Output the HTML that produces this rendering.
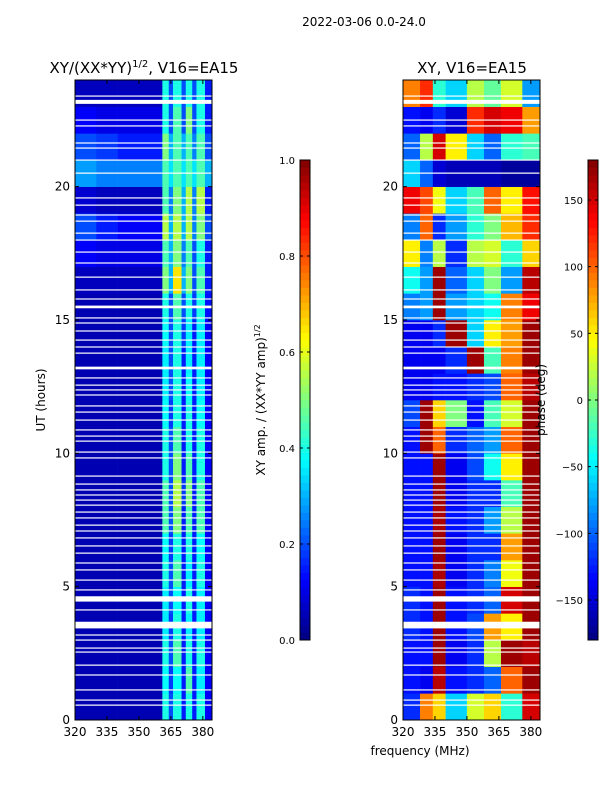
<!DOCTYPE html>
<html><head><meta charset="utf-8"><style>
body{margin:0;background:#fff;}
svg text{font-family:"DejaVu Sans","Liberation Sans",sans-serif;fill:#000;}
</style></head><body>
<svg id="fig" width="600" height="800" xmlns="http://www.w3.org/2000/svg">
<rect width="600" height="800" fill="#fff"/>
<text x="364" y="26" font-size="12" text-anchor="middle">2022-03-06 0.0-24.0</text>
<g id="left"></g>
<g id="right"></g>
<g id="cb1"></g>
<g id="cb2"></g>
<text x="144" y="73" font-size="15" text-anchor="middle">XY/(XX*YY)<tspan font-size="10" dy="-6">1/2</tspan><tspan dy="6">, V16=EA15</tspan></text>
<text x="472" y="73" font-size="15" text-anchor="middle">XY, V16=EA15</text>
<text transform="translate(45,400) rotate(-90)" font-size="12" text-anchor="middle">UT (hours)</text>
<text x="420" y="755" font-size="12" text-anchor="middle">frequency (MHz)</text>
<text transform="translate(265,400) rotate(-90)" font-size="12" text-anchor="middle">XY amp. / (XX*YY amp)<tspan font-size="8" dy="-5">1/2</tspan></text>
<text transform="translate(545,400) rotate(-90)" font-size="12" text-anchor="middle">phase (deg)</text>
</svg>
<script>
const xTicks=[320,335,350,365,380];
const yTicks=[0,5,10,15,20];
const ampTicks=[0.0,0.2,0.4,0.6,0.8,1.0];
const phaseTicks=[-150,-100,-50,0,50,100,150];
const leftFreqEdges=[320,330,340,350,361,364,366,370,372,375,377,381,384.3];
const rightFreqEdges=[320,328,334,340,350,358,366,376,384.3];
const ampGrid=[
[0.05,0.05,0.05,0.05,0.4,0.2,0.4,0.15,0.4,0.15,0.4,0.12],
[0.05,0.05,0.05,0.05,0.38,0.18,0.38,0.15,0.45,0.15,0.36,0.12],
[0.05,0.05,0.05,0.05,0.4,0.2,0.45,0.15,0.4,0.15,0.4,0.12],
[0.05,0.05,0.05,0.05,0.36,0.18,0.4,0.15,0.36,0.15,0.36,0.12],
[0.05,0.05,0.05,0.05,0.36,0.2,0.38,0.15,0.4,0.15,0.36,0.12],
[0.05,0.05,0.05,0.05,0.4,0.2,0.45,0.15,0.36,0.15,0.4,0.12],
[0.05,0.05,0.05,0.05,0.38,0.18,0.4,0.15,0.4,0.15,0.38,0.12],
[0.05,0.05,0.05,0.05,0.45,0.2,0.5,0.15,0.45,0.15,0.45,0.12],
[0.05,0.05,0.05,0.05,0.45,0.2,0.55,0.18,0.5,0.15,0.45,0.12],
[0.05,0.05,0.05,0.05,0.4,0.2,0.5,0.15,0.45,0.15,0.4,0.12],
[0.05,0.05,0.05,0.05,0.4,0.2,0.45,0.15,0.4,0.15,0.4,0.12],
[0.05,0.05,0.05,0.05,0.38,0.18,0.4,0.15,0.4,0.15,0.38,0.12],
[0.05,0.05,0.05,0.05,0.36,0.2,0.4,0.15,0.38,0.15,0.36,0.12],
[0.05,0.05,0.05,0.05,0.36,0.2,0.4,0.15,0.36,0.15,0.36,0.12],
[0.05,0.05,0.05,0.05,0.38,0.2,0.4,0.18,0.36,0.15,0.36,0.12],
[0.05,0.05,0.05,0.05,0.4,0.2,0.45,0.2,0.4,0.18,0.4,0.14],
[0.06,0.06,0.06,0.06,0.5,0.3,0.65,0.3,0.5,0.2,0.45,0.15],
[0.12,0.1,0.1,0.1,0.45,0.3,0.5,0.25,0.45,0.2,0.4,0.15],
[0.2,0.15,0.12,0.12,0.55,0.3,0.55,0.3,0.55,0.25,0.5,0.2],
[0.08,0.06,0.06,0.06,0.45,0.25,0.5,0.3,0.55,0.25,0.55,0.15],
[0.28,0.25,0.25,0.25,0.45,0.35,0.45,0.35,0.45,0.35,0.45,0.3],
[0.2,0.18,0.15,0.15,0.5,0.3,0.45,0.3,0.45,0.25,0.45,0.2],
[0.12,0.1,0.1,0.1,0.4,0.2,0.45,0.2,0.5,0.2,0.4,0.15],
[0.06,0.06,0.06,0.06,0.4,0.2,0.4,0.2,0.4,0.2,0.4,0.15]
];
const phaseGrid=[
[-120,90,60,-60,30,60,-30,150],
[-130,-140,160,-130,-120,-100,100,170],
[-130,-130,170,-140,-120,20,170,160],
[-120,-130,170,-130,-110,80,50,170],
[-120,-130,170,-130,-120,-100,150,170],
[-130,-130,165,-140,-120,-90,40,170],
[-130,-130,170,-140,-120,-120,80,170],
[-130,-130,165,-130,-120,-80,20,170],
[-130,-130,170,-140,-120,-120,-20,170],
[-130,-130,170,-140,-110,-40,50,170],
[-130,170,100,-120,-100,-80,100,170],
[-110,170,60,0,-130,-20,30,170],
[-140,-140,-130,-130,-120,-110,100,160],
[-140,-140,-140,-120,170,-20,90,170],
[-140,-140,-120,170,-60,50,80,170],
[-90,-80,170,-80,-60,-40,90,140],
[-40,-80,170,-100,-60,0,-80,160],
[50,-90,20,-120,20,30,-30,60],
[-90,100,-120,-80,-30,0,70,120],
[140,110,40,-60,-20,100,50,130],
[-60,-100,-150,-160,-160,-160,-170,-170],
[-100,20,150,50,-60,-100,-30,-20],
[-130,-140,-120,-150,120,150,140,80],
[90,120,-30,-60,20,-10,30,-80]
];
const gapHours=[23.4,23.18,22.5,22.28,21.64,21.45,21.0,20.51,19.58,19.31,18.94,18.71,18.26,18.0,17.55,17.14,16.61,16.13,15.79,15.49,15.08,14.89,14.59,14.25,13.99,13.76,13.2,12.83,12.56,12.38,12.19,11.78,11.55,11.25,10.88,10.65,10.46,10.05,9.83,9.15,8.85,8.63,8.44,8.25,8.06,7.8,7.58,7.31,7.09,6.83,6.53,6.26,5.89,5.63,5.25,4.88,4.54,4.13,3.56,3.19,3.0,2.7,2.55,2.06,1.69,1.13,0.75,0.56];
const gapWidths=[0.04,0.15,0.04,0.04,0.04,0.04,0.04,0.04,0.04,0.04,0.04,0.04,0.04,0.04,0.04,0.04,0.04,0.04,0.04,0.1,0.04,0.04,0.04,0.04,0.04,0.04,0.1,0.04,0.04,0.04,0.04,0.04,0.04,0.04,0.04,0.04,0.04,0.04,0.04,0.04,0.04,0.04,0.04,0.04,0.04,0.04,0.04,0.04,0.04,0.04,0.04,0.04,0.04,0.04,0.04,0.04,0.2,0.04,0.25,0.04,0.04,0.04,0.04,0.04,0.04,0.04,0.04,0.04];

const NS='http://www.w3.org/2000/svg';
function mk(parent,tag,attrs){const e=document.createElementNS(NS,tag);for(const k in attrs)e.setAttribute(k,attrs[k]);parent.appendChild(e);return e;}
function jet(v){v=Math.max(0,Math.min(1,v));
 const r=Math.max(0,Math.min(1,1.5-Math.abs(4*v-3))),g=Math.max(0,Math.min(1,1.5-Math.abs(4*v-2))),b=Math.max(0,Math.min(1,1.5-Math.abs(4*v-1)));
 return `rgb(${Math.round(r*255)},${Math.round(g*255)},${Math.round(b*255)})`;}
const PT=80,PB=720;
const yH=h=>PB-(h/24)*(PB-PT);

function panel(gid,x0,x1,edges,grid,norm,name){
 const g=document.getElementById(gid);
 const xF=f=>x0+(f-320)/(384.3-320)*(x1-x0);
 grid.forEach((row,ri)=>{row.forEach((v,ci)=>{
  const r=mk(g,'rect',{x:xF(edges[ci]),y:yH(ri+1),width:xF(edges[ci+1])-xF(edges[ci])+0.3,height:yH(ri)-yH(ri+1)+0.3,fill:jet(norm(v))});
  
  
 });});
 gapHours.forEach((h,i)=>{
  const r=mk(g,'rect',{x:x0,y:yH(h+gapWidths[i]/2),width:x1-x0,height:Math.max(1.2,yH(h)-yH(h+gapWidths[i])),fill:'#fff'});
  
  
 });
 const fr=mk(g,'rect',{x:x0,y:PT,width:x1-x0,height:PB-PT,fill:'none',stroke:'#000','stroke-width':1});
 
 
 xTicks.forEach(t=>{const x=xF(t);
  mk(g,'line',{x1:x,x2:x,y1:PB,y2:PB-4,stroke:'#000'});mk(g,'line',{x1:x,x2:x,y1:PT,y2:PT+4,stroke:'#000'});
  const tx=mk(g,'text',{x:x,y:PB+16,'font-size':12,'text-anchor':'middle'});tx.textContent=t;
  
  
 });
 yTicks.forEach(t=>{const y=yH(t);
  mk(g,'line',{x1:x0,x2:x0+4,y1:y,y2:y,stroke:'#000'});mk(g,'line',{x1:x1,x2:x1-4,y1:y,y2:y,stroke:'#000'});
  const tx=mk(g,'text',{x:x0-5,y:y+4,'font-size':12,'text-anchor':'end'});tx.textContent=t;
  
  
 });
}
panel('left',75,212,leftFreqEdges,ampGrid,v=>v,'amplitude');
panel('right',403,540,rightFreqEdges,phaseGrid,v=>(v+180)/360,'phase');

function colorbar(gid,x0,w,ticks,lo,hi,fmt){
 const g=document.getElementById(gid);const T=160,B=640,N=64;
 for(let i=0;i<N;i++){mk(g,'rect',{x:x0,y:B-(i+1)*(B-T)/N,width:w,height:(B-T)/N+0.4,fill:jet((i+0.5)/N)});}
 mk(g,'rect',{x:x0,y:T,width:w,height:B-T,fill:'none',stroke:'#000'});
 ticks.forEach(t=>{const y=B-(t-lo)/(hi-lo)*(B-T);
  mk(g,'line',{x1:x0,x2:x0+3,y1:y,y2:y,stroke:'#000'});mk(g,'line',{x1:x0+w-3,x2:x0+w,y1:y,y2:y,stroke:'#000'});
  const tx=mk(g,'text',{x:x0-5,y:y+4,'font-size':10,'text-anchor':'end'});tx.textContent=fmt(t);
  
  
 });
}
colorbar('cb1',300,10,ampTicks,0,1,t=>t.toFixed(1));
colorbar('cb2',588,10,phaseTicks,-180,180,t=>t<0?'\u2212'+(-t):String(t));
</script>
</body></html>
